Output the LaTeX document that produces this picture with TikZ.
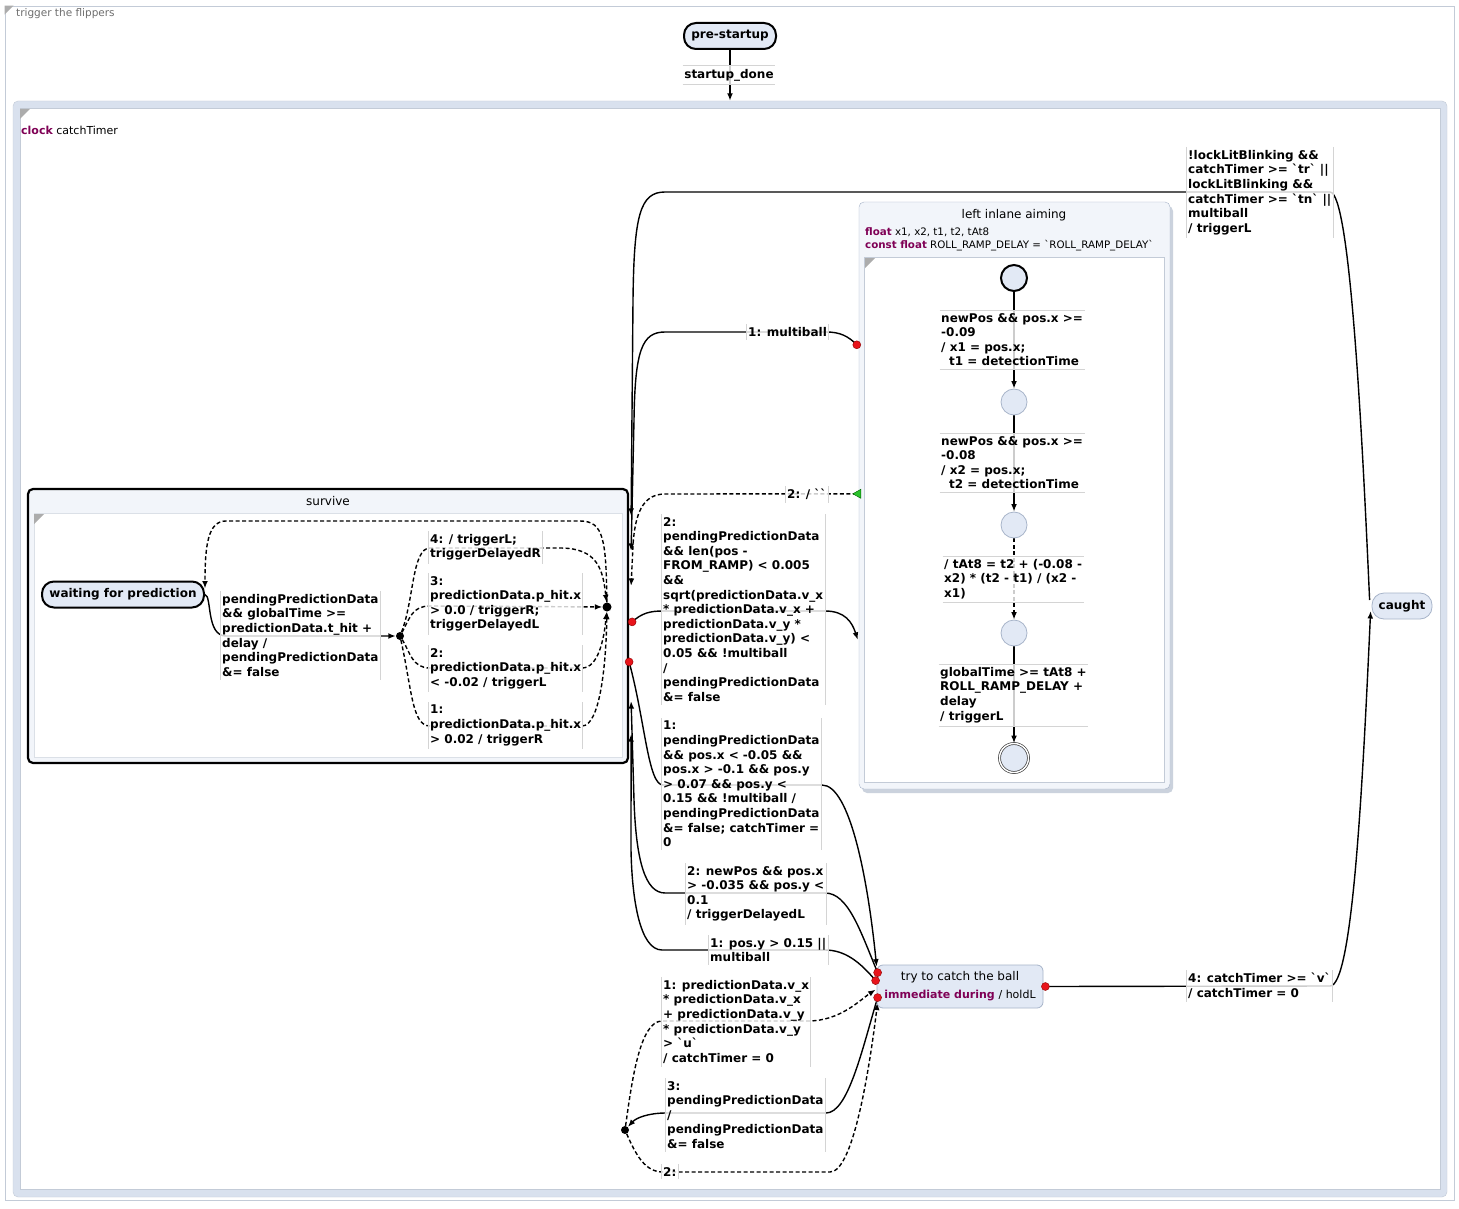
\documentclass[tikz,border=0pt]{standalone}
\usepackage{fontspec}
\setmainfont{DejaVu Sans}
\usepackage{tikz}
\usetikzlibrary{arrows.meta,positioning,calc}
\definecolor{kw}{HTML}{7F0055}
\definecolor{statefill}{HTML}{E2E9F5}
\definecolor{stateline}{HTML}{A7B4C9}
\definecolor{framegray}{HTML}{C3CBD7}
\definecolor{bandblue}{HTML}{D9E1EE}
\definecolor{headfill}{HTML}{F2F5FA}
\definecolor{bargray}{HTML}{D4D4D4}
\definecolor{titlegray}{HTML}{6E6E6E}
\definecolor{dotred}{HTML}{E8141B}
\definecolor{dotgreen}{HTML}{2BC22B}
\newcommand{\bq}{\textasciigrave}
\pgfdeclarelayer{frames}
\pgfdeclarelayer{edges}
\pgfsetlayers{frames,edges,main}
\tikzset{
  >={Latex[length=7.5pt,width=5.8pt]},
  lbl/.style={font=\bfseries\fontsize{12}{14.6}\selectfont, align=left, anchor=north west,
    inner xsep=1.5pt, inner ysep=3pt, fill=white, fill opacity=.8, text opacity=1},
  barline/.style={draw=bargray, line width=.7pt},
  lblh/.style={lbl, append after command={(\tikzlastnode.north west) edge[barline] (\tikzlastnode.south west)
    (\tikzlastnode.north east) edge[barline] (\tikzlastnode.south east)}},
  lblv/.style={lbl, append after command={(\tikzlastnode.north west) edge[barline] (\tikzlastnode.north east)
    (\tikzlastnode.south west) edge[barline] (\tikzlastnode.south east)}},
  flow/.style={->, line width=1.4pt},
  immflow/.style={flow, dash pattern=on 4pt off 2.5pt},
  bigstate/.style={draw, line width=2pt, rounded corners=12pt, fill=statefill,
    font=\bfseries\fontsize{12}{14}\selectfont, minimum height=26pt},
  simple/.style={draw=stateline, line width=.8pt, rounded corners=12pt, fill=statefill,
    font=\bfseries\fontsize{12}{14}\selectfont, minimum height=26pt},
  pseudo/.style={circle, draw=stateline, line width=.8pt, fill=statefill, minimum size=26pt, inner sep=0pt},
  dot/.style={circle, fill=black, minimum size=8pt, inner sep=0pt},
  exitdot/.style={circle, fill=dotred, draw=red!55!black, line width=.4pt, minimum size=8pt, inner sep=0pt},
  corner/.style={fill=gray!65}
}
\begin{document}
\begin{tikzpicture}[x=1pt,y=-1pt]
  \useasboundingbox (0,0) rectangle (1459,1209);
  \begin{pgfonlayer}{frames}
    \fill[white] (0,0) rectangle (1459,1209);
    \node[draw=framegray, fill=white, line width=.8pt, minimum width=1449pt, minimum height=1194pt, inner sep=0pt] (flip) at (729.5,603) {};
    \fill[corner] (flip.north west) -- ++(9,0) -- ++(-9,9) -- cycle;
    \node[draw=framegray, fill=bandblue, rounded corners=5pt, minimum width=1434pt, minimum height=1096pt, inner sep=0pt] (catch) at (730,649) {};
    \draw[draw=framegray, fill=white] (20,108) rectangle (1440,1189);
    \fill[corner] (20,109) -- ++(10,0) -- ++(-10,10) -- cycle;
    \node[draw=black, line width=2.2pt, fill=headfill, rounded corners=5pt, minimum width=600pt, minimum height=274pt, inner sep=0pt] (survive) at (328,626) {};
    \draw[draw=framegray!60, fill=white] (34,513) rectangle (622,757);
    \fill[corner] (34,514) -- ++(10,0) -- ++(-10,10) -- cycle;
    \fill[bandblue!85!gray, rounded corners=5pt] (862,206) rectangle (1173,793);
    \node[draw=stateline, fill=headfill, rounded corners=5pt, minimum width=311pt, minimum height=587pt, inner sep=0pt] (aiming) at (1014.5,495.5) {};
    \draw[draw=framegray, fill=white] (864,257) rectangle (1164,782);
    \fill[corner] (865,258) -- ++(10,0) -- ++(-10,10) -- cycle;
  \end{pgfonlayer}
  \node[anchor=north west, inner sep=0pt, font=\fontsize{10.5}{12}\selectfont, text=titlegray] (fliptitle) at (16,8) {trigger the flippers};
  \node[anchor=west, inner sep=0pt, font=\fontsize{11}{13}\selectfont] (clockdecl) at (21,130) {{\color{kw}\bfseries clock} catchTimer};
  \node[font=\fontsize{12}{14}\selectfont] (survivetitle) at (328,501) {survive};
  \node[font=\fontsize{12}{14}\selectfont] (aimtitle) at (1014,215) {left inlane aiming};
  \node[anchor=west, inner sep=0pt, font=\fontsize{10.3}{12}\selectfont] (aimdecl1) at (865,232) {{\color{kw}\bfseries float} x1, x2, t1, t2, tAt8};
  \node[anchor=west, inner sep=0pt, font=\fontsize{10.3}{12}\selectfont] (aimdecl2) at (865,246) {{\color{kw}\bfseries const float} ROLL\_RAMP\_DELAY = \bq ROLL\_RAMP\_DELAY\bq};

  \node[bigstate, minimum width=92pt] (prestart) at (730,36) {pre-startup};
  \node[bigstate, minimum width=162pt] (waiting) at (123,594.5) {waiting for prediction};
  \node[simple, minimum width=60pt] (caught) at (1402,606) {caught};
  \node[simple, rounded corners=6pt, minimum width=166pt, minimum height=43pt, align=center, font=\fontsize{12}{18}\selectfont] (trycatch) at (960,986.5)
    {try to catch the ball\\{\fontsize{11}{18}\selectfont\color{kw}\bfseries immediate during} {\fontsize{11}{18}\selectfont / holdL}};
  \node[pseudo, line width=2pt, draw=black] (init) at (1014,278) {};
  \node[pseudo] (s1) at (1014,402) {};
  \node[pseudo] (s2) at (1014,525) {};
  \node[pseudo] (s3) at (1014,633) {};
  \node[pseudo, minimum size=29pt, draw=black!75, double=white, double distance=1.4pt, line width=.7pt] (final) at (1014,758) {};
  \node[dot] (ch1) at (400,636) {};
  \node[dot, minimum size=9pt] (join) at (607,607) {};
  \node[dot] (ch2) at (625,1130) {};

  \node[lblv, anchor=center] (lstart) at (729,75) {startup\_done};
  \node[lblh] (lwait) at (220.5,591) {pendingPredictionData\\\&\& globalTime >=\\predictionData.t\_hit +\\delay /\\pendingPredictionData\\\&= false};
  \node[lblh] (l4) at (428.5,531) {4: / triggerL;\\triggerDelayedR};
  \node[lblh] (l3) at (428.5,573) {3:\\predictionData.p\_hit.x\\> 0.0 / triggerR;\\triggerDelayedL};
  \node[lblh] (l2) at (428.5,645) {2:\\predictionData.p\_hit.x\\< -0.02 / triggerL};
  \node[lblh] (l1) at (428.5,702) {1:\\predictionData.p\_hit.x\\> 0.02 / triggerR};
  \node[lblh] (lmulti) at (746.5,324) {1: multiball};
  \node[lblh] (lgreen) at (785.5,486) {2: / \bq\bq};
  \node[lblh] (lsqrt) at (661.5,514) {2:\\pendingPredictionData\\\&\& len(pos -\\FROM\_RAMP) < 0.005\\\&\&\\sqrt(predictionData.v\_x\\{}* predictionData.v\_x +\\predictionData.v\_y *\\predictionData.v\_y) <\\0.05 \&\& !multiball\\/\\pendingPredictionData\\\&= false};
  \node[lblh] (lcatch1) at (661.5,718) {1:\\pendingPredictionData\\\&\& pos.x < -0.05 \&\&\\pos.x > -0.1 \&\& pos.y\\> 0.07 \&\& pos.y <\\0.15 \&\& !multiball /\\pendingPredictionData\\\&= false; catchTimer =\\0};
  \node[lblh] (lnewpos) at (685.5,863) {2: newPos \&\& pos.x\\> -0.035 \&\& pos.y <\\0.1\\/ triggerDelayedL};
  \node[lblh] (lposy) at (708.5,935) {1: pos.y > 0.15 ||\\multiball};
  \node[lblh] (lvx) at (661.5,977) {1: predictionData.v\_x\\{}* predictionData.v\_x\\+ predictionData.v\_y\\{}* predictionData.v\_y\\> \bq u\bq\\/ catchTimer = 0};
  \node[lblh] (lpend) at (665.5,1078) {3:\\pendingPredictionData\\/\\pendingPredictionData\\\&= false};
  \node[lblh] (ltwo) at (661.5,1164) {2:};
  \node[lblh] (llock) at (1186.5,147) {!lockLitBlinking \&\&\\catchTimer >= \bq tr\bq{} ||\\lockLitBlinking \&\&\\catchTimer >= \bq tn\bq{} ||\\multiball\\/ triggerL};
  \node[lblh] (lv) at (1186.5,970) {4: catchTimer >= \bq v\bq\\/ catchTimer = 0};
  \node[lblv] (la1) at (939.5,310) {newPos \&\& pos.x >=\\-0.09\\/ x1 = pos.x;\\\hspace*{8pt}t1 = detectionTime};
  \node[lblv] (la2) at (939.5,433) {newPos \&\& pos.x >=\\-0.08\\/ x2 = pos.x;\\\hspace*{8pt}t2 = detectionTime};
  \node[lblv] (la3) at (942.5,556) {/ tAt8 = t2 + (-0.08 -\\x2) * (t2 - t1) / (x2 -\\x1)};
  \node[lblv] (la4) at (938.5,664) {globalTime >= tAt8 +\\ROLL\_RAMP\_DELAY +\\delay\\/ triggerL};

  \coordinate (lockend) at ($(survive.north east)+(2,28)$);
  \coordinate (multiend) at ($(survive.north east)+(2,63)$);
  \coordinate (greenend) at ($(survive.north east)+(2,98)$);
  \coordinate (sqrtstart) at ($(survive.north east)+(3,134)$);
  \coordinate (c1start) at ($(survive.north east)+(0,174)$);
  \coordinate (newposend) at ($(survive.south east)+(2,-63)$);
  \coordinate (posyend) at ($(survive.south east)+(2,-30)$);
  \coordinate (multistart) at ($(aiming.north west)+(-2,143)$);
  \coordinate (greenstart) at ($(aiming.north west)+(-2,292)$);
  \coordinate (sqrtend) at ($(aiming.north west)+(-1,438)$);
  \coordinate (c1end) at ($(trycatch.north west)+(0,2)$);
  \coordinate (newposstart) at ($(trycatch.north west)+(1,8)$);
  \coordinate (posystart) at ($(trycatch.north west)+(-1,16)$);
  \coordinate (vxend) at ($(trycatch.north west)+(-1,25)$);
  \coordinate (pendstart) at ($(trycatch.north west)+(1,33)$);
  \coordinate (twoend) at ($(trycatch.north west)+(1,38)$);
  \coordinate (vstart) at ($(trycatch.east)+(2,0)$);
  \coordinate (lockstart) at ($(caught.west)+(-2,-6)$);
  \coordinate (vend) at ($(caught.west)+(-1,5)$);

  \begin{pgfonlayer}{edges}
    \draw[flow] (prestart) -- (catch);
    \draw[flow] (waiting.east) .. controls (212,596) and (206,636) .. (226,636) -- (ch1);
    \draw[immflow] (ch1) .. controls (414,600) and (412,548) .. (430,548) -- (560,548) .. controls (598,548) and (603,570) .. (join);
    \draw[immflow] (ch1) .. controls (410,618) and (412,606) .. (430,606) -- (join);
    \draw[immflow] (ch1) .. controls (410,652) and (412,668) .. (430,668) -- (582,668) .. controls (598,668) and (604,640) .. (join);
    \draw[immflow] (ch1) .. controls (412,690) and (412,726) .. (430,726) -- (582,726) .. controls (600,726) and (606,665) .. (join);
    \draw[immflow] (join) .. controls (606,540) and (604,521) .. (580,521) -- (226,521) .. controls (208,521) and (205,545) .. ([yshift=-8pt]waiting.north east);
    \draw[flow] (lockstart) .. controls (1362,430) and (1350,192) .. (1330,192) -- (665,192) .. controls (640,192) and (634,215) .. (633,300) -- (lockend);
    \draw[flow] (multistart) .. controls (848,336) and (840,332) .. (826,332) -- (665,332) .. controls (642,332) and (635,350) .. (634,420) -- (multiend);
    \draw[immflow] (greenstart) -- (665,494) .. controls (642,494) and (635,515) .. (633,545) -- (greenend);
    \draw[flow] (sqrtstart) .. controls (642,613) and (650,611) .. (663,611) -- (825,611) .. controls (845,611) and (852,622) .. (sqrtend);
    \draw[flow] (c1start) .. controls (645,720) and (648,785) .. (663,785) -- (822,785) .. controls (850,785) and (868,880) .. (c1end);
    \draw[flow] (newposstart) .. controls (860,930) and (848,893) .. (825,893) -- (665,893) .. controls (645,893) and (636,860) .. (634,800) -- (newposend);
    \draw[flow] (posystart) .. controls (860,962) and (845,950) .. (825,950) -- (662,950) .. controls (640,950) and (632,900) .. (631,850) -- (posyend);
    \draw[flow] (pendstart) .. controls (862,1050) and (848,1113) .. (826,1113) -- (666,1113) .. controls (648,1113) and (636,1118) .. (ch2);
    \draw[immflow] (ch2) .. controls (632,1080) and (640,1021) .. (662,1021) -- (808,1021) .. controls (840,1021) and (860,1000) .. (vxend);
    \draw[immflow] (ch2) .. controls (636,1155) and (645,1172) .. (663,1172) -- (830,1172) .. controls (852,1172) and (868,1080) .. (twoend);
    \draw[flow] (vstart) -- (1330,986) .. controls (1352,986) and (1362,800) .. (vend);
    \draw[flow] (init) -- (s1);
    \draw[flow] (s1) -- (s2);
    \draw[immflow] (s2) -- (s3);
    \draw[flow] (s3) -- (final);
  \end{pgfonlayer}

  \foreach \p in {sqrtstart,c1start,multistart,newposstart,posystart,pendstart,vstart}
    \node[exitdot] at (\p) {};
  \fill[dotgreen, draw=green!40!black, line width=.4pt] ($(greenstart)+(-4,0)$) -- ($(greenstart)+(4,-4.5)$) -- ($(greenstart)+(4,4.5)$) -- cycle;
\end{tikzpicture}
\end{document}
